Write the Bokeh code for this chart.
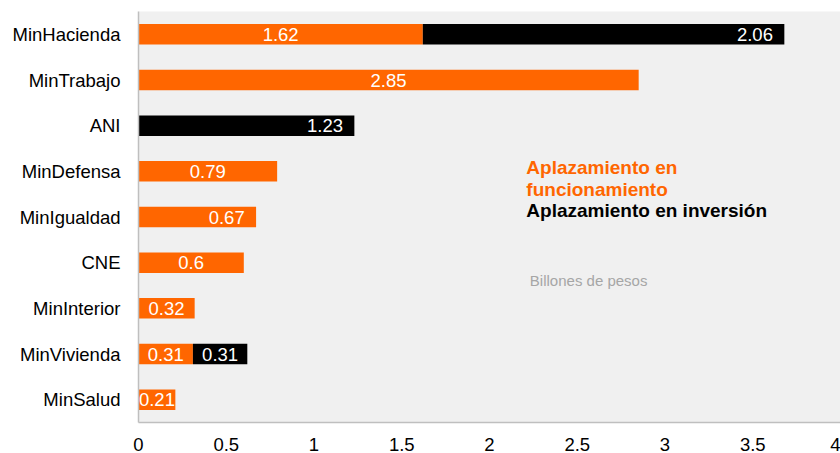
from bokeh.plotting import figure
from bokeh.models import ColumnDataSource, FactorRange, FixedTicker, NumeralTickFormatter, Label, Range1d
from bokeh.embed import file_html
from bokeh.resources import INLINE
from bokeh.core.properties import value

categories = ["MinHacienda", "MinTrabajo", "ANI", "MinDefensa", "MinIgualdad",
              "CNE", "MinInterior", "MinVivienda", "MinSalud"]
funcionamiento = [1.62, 2.85, 0.0, 0.79, 0.67, 0.60, 0.32, 0.31, 0.21]
inversion = [2.06, 0.0, 1.23, 0.0, 0.0, 0.0, 0.0, 0.31, 0.0]
x_ticks = [0, 0.5, 1, 1.5, 2, 2.5, 3, 3.5, 4]

ORANGE = "#FF6600"
BLACK = "#000000"
FONT = "Liberation Sans"
FS = "18.5px"

y_factors = list(reversed(categories))

p = figure(width=840, height=453, output_backend="svg", toolbar_location=None,
           y_range=FactorRange(factors=y_factors, range_padding=0),
           x_range=Range1d(0, 4),
           min_border_left=138, min_border_right=0, min_border_top=11, min_border_bottom=29,
           background_fill_color="#F0F0F0", border_fill_color="white")
p.outline_line_color = None
p.xgrid.visible = False
p.ygrid.visible = False

src_f = ColumnDataSource(dict(y=categories, left=[0] * len(categories), right=funcionamiento))
src_i = ColumnDataSource(dict(y=categories, left=funcionamiento,
                              right=[a + b for a, b in zip(funcionamiento, inversion)]))
p.hbar(y="y", left="left", right="right", height=0.45, source=src_f,
       fill_color=ORANGE, line_color=None)
p.hbar(y="y", left="left", right="right", height=0.45, source=src_i,
       fill_color=BLACK, line_color=None)

# value labels
end_aligned = {("i", "MinHacienda"), ("i", "ANI"), ("f", "MinIgualdad")}
lx, ly, lt, la = [], [], [], []
for c, f, i in zip(categories, funcionamiento, inversion):
    if f > 0:
        if ("f", c) in end_aligned:
            lx.append(f - 0.065); la.append("right")
        else:
            lx.append(f / 2); la.append("center")
        ly.append(c); lt.append(f"{f:g}")
    if i > 0:
        if ("i", c) in end_aligned:
            lx.append(f + i - 0.065); la.append("right")
        else:
            lx.append(f + i / 2); la.append("center")
        ly.append(c); lt.append(f"{i:g}")
src_l = ColumnDataSource(dict(x=lx, y=ly, t=lt, a=la))
p.text(x="x", y="y", text="t", text_align="a", source=src_l, text_baseline="middle",
       text_color="white", text_font=value(FONT), text_font_size=FS)

# axes
p.xaxis.ticker = FixedTicker(ticks=x_ticks)
p.xaxis.formatter = NumeralTickFormatter(format="0.[0]")
for ax in (p.xaxis[0], p.yaxis[0]):
    ax.axis_line_color = "#BFBFBF"
    ax.axis_line_width = 1.5
    ax.major_tick_line_color = None
    ax.minor_tick_line_color = None
    ax.major_label_text_font = FONT
    ax.major_label_text_font_size = FS
    ax.major_label_text_color = "#000000"
p.xaxis.major_label_standoff = 9
p.yaxis.major_label_standoff = 12

# legend-like texts
for txt, yy, col in [("Aplazamiento en", 5.58, ORANGE), ("funcionamiento", 5.10, ORANGE),
                     ("Aplazamiento en inversión", 4.64, BLACK)]:
    p.add_layout(Label(x=2.21, y=yy, text=txt, text_color=col, text_font=FONT,
                       text_font_size="19px", text_font_style="bold", text_baseline="middle"))
p.add_layout(Label(x=2.23, y=3.10, text="Billones de pesos", text_color="#A6A6A6",
                   text_font=FONT, text_font_size="15px", text_baseline="middle"))

open("out.html", "w").write(file_html(p, INLINE))
